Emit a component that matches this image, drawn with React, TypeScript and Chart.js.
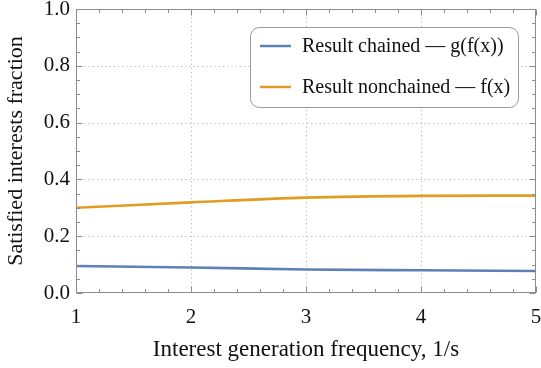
import React, { useEffect, useRef } from "react";
import { Chart, registerables } from "chart.js";

Chart.register(...registerables);

const frequencies = [1, 2, 3, 4, 5];
const chainedValues = [0.095, 0.09, 0.083, 0.08, 0.0775];
const nonchainedValues = [0.3, 0.319, 0.336, 0.342, 0.343];
const seriesLabels = ["Result chained \u2014 g(f(x))", "Result nonchained \u2014 f(x)"];
const seriesColors = ["#5E81B5", "#E19C24"];
const xTitle = "Interest generation frequency, 1/s";
const yTitle = "Satisfied interests fraction";

const FONT = "'Liberation Serif', 'Times New Roman', serif";

const framePlugin = {
  id: "mmaFrame",
  beforeDatasetsDraw(chart: any) {
    const { ctx, chartArea: a, scales } = chart;
    const xs = scales.x, ys = scales.y;
    ctx.save();
    ctx.strokeStyle = "#b8b8b8";
    ctx.lineWidth = 1;
    ctx.setLineDash([1.2, 3]);
    for (let v = 2; v <= 4; v++) {
      const px = Math.round(xs.getPixelForValue(v)) + 0.5;
      ctx.beginPath();
      ctx.moveTo(px, a.top);
      ctx.lineTo(px, a.bottom);
      ctx.stroke();
    }
    for (let i = 1; i <= 4; i++) {
      const py = Math.round(ys.getPixelForValue(i * 0.2)) + 0.5;
      ctx.beginPath();
      ctx.moveTo(a.left, py);
      ctx.lineTo(a.right, py);
      ctx.stroke();
    }
    ctx.restore();
  },
  afterDatasetsDraw(chart: any) {
    const { ctx, chartArea: a, scales } = chart;
    const xs = scales.x, ys = scales.y;
    ctx.save();
    ctx.strokeStyle = "#8c8c8c";
    ctx.lineWidth = 1;
    ctx.setLineDash([]);
    const L = Math.round(a.left) + 0.5, R = Math.round(a.right) - 0.5;
    const T = Math.round(a.top) + 0.5, B = Math.round(a.bottom) - 0.5;
    ctx.strokeRect(L, T, R - L, B - T);
    for (let k = 0; k <= 20; k++) {
      const v = 1 + k * 0.2;
      const major = k % 5 === 0;
      const len = major ? 6 : 3.5;
      const px = Math.round(xs.getPixelForValue(v)) + 0.5;
      ctx.beginPath();
      ctx.moveTo(px, B);
      ctx.lineTo(px, B - len);
      ctx.moveTo(px, T);
      ctx.lineTo(px, T + len);
      ctx.stroke();
    }
    for (let k = 0; k <= 20; k++) {
      const v = k * 0.05;
      const major = k % 4 === 0;
      const len = major ? 6 : 3.5;
      const py = Math.round(ys.getPixelForValue(v)) + 0.5;
      ctx.beginPath();
      ctx.moveTo(L, py);
      ctx.lineTo(L + len, py);
      ctx.moveTo(R, py);
      ctx.lineTo(R - len, py);
      ctx.stroke();
    }
    ctx.restore();
  },
  afterDraw(chart: any) {
    const { ctx } = chart;
    const bx = 250.5, by = 27.5, bw = 268, bh = 80, r = 9;
    ctx.save();
    ctx.fillStyle = "rgba(255,255,255,0.95)";
    ctx.strokeStyle = "#9a9a9a";
    ctx.lineWidth = 1;
    ctx.beginPath();
    ctx.moveTo(bx + r, by);
    ctx.lineTo(bx + bw - r, by);
    ctx.arcTo(bx + bw, by, bx + bw, by + r, r);
    ctx.lineTo(bx + bw, by + bh - r);
    ctx.arcTo(bx + bw, by + bh, bx + bw - r, by + bh, r);
    ctx.lineTo(bx + r, by + bh);
    ctx.arcTo(bx, by + bh, bx, by + bh - r, r);
    ctx.lineTo(bx, by + r);
    ctx.arcTo(bx, by, bx + r, by, r);
    ctx.closePath();
    ctx.fill();
    ctx.stroke();
    const rows = [46, 87];
    chart.data.datasets.forEach((ds: any, i: number) => {
      const y = rows[i];
      ctx.strokeStyle = ds.borderColor;
      ctx.lineWidth = 2.5;
      ctx.beginPath();
      ctx.moveTo(260, y);
      ctx.lineTo(291, y);
      ctx.stroke();
      ctx.fillStyle = "#111";
      ctx.font = `20px ${FONT}`;
      ctx.textBaseline = "middle";
      ctx.textAlign = "left";
      ctx.fillText(ds.label, 302, y + 1);
    });
    ctx.restore();
  },
};

export default function App() {
  const ref = useRef<HTMLCanvasElement | null>(null);
  useEffect(() => {
    if (!ref.current) return;
    const chart = new Chart(ref.current, {
      type: "line",
      data: {
        datasets: [
          {
            label: seriesLabels[0],
            data: frequencies.map((x, i) => ({ x, y: chainedValues[i] })),
            borderColor: seriesColors[0],
            borderWidth: 2.6,
            pointRadius: 0,
            cubicInterpolationMode: "monotone",
            fill: false,
          },
          {
            label: seriesLabels[1],
            data: frequencies.map((x, i) => ({ x, y: nonchainedValues[i] })),
            borderColor: seriesColors[1],
            borderWidth: 2.6,
            pointRadius: 0,
            cubicInterpolationMode: "monotone",
            fill: false,
          },
        ],
      },
      options: {
        animation: false,
        responsive: true,
        maintainAspectRatio: false,
        layout: { padding: { top: 9, right: 5, left: 0, bottom: 0 } },
        plugins: { legend: { display: false }, tooltip: { enabled: false } },
        scales: {
          x: {
            type: "linear",
            min: 1,
            max: 5,
            grid: { display: false, drawTicks: false },
            border: { display: false },
            ticks: {
              stepSize: 1,
              padding: 12,
              color: "#111",
              font: { family: FONT, size: 21 },
              maxRotation: 0,
              callback: (v: any) => String(v),
            },
            title: {
              display: true,
              text: xTitle,
              color: "#111",
              font: { family: FONT, size: 23 },
              padding: { top: 0, bottom: 4 },
            },
            afterFit: (s: any) => {
              s.height = 75;
              s.paddingLeft = 0;
              s.paddingRight = 0;
            },
          },
          y: {
            type: "linear",
            min: 0,
            max: 1,
            grid: { display: false, drawTicks: false },
            border: { display: false },
            ticks: {
              stepSize: 0.2,
              padding: 6,
              color: "#111",
              font: { family: FONT, size: 21 },
              callback: (v: any) => Number(v).toFixed(1),
            },
            title: {
              display: true,
              text: yTitle,
              color: "#111",
              font: { family: FONT, size: 22 },
              padding: { top: 3, bottom: 0 },
            },
            afterFit: (s: any) => {
              s.width = 76;
              s.paddingTop = 0;
              s.paddingBottom = 0;
            },
          },
        },
      },
      plugins: [framePlugin],
    });
    return () => chart.destroy();
  }, []);
  return (
    <div style={{ position: "absolute", left: 0, top: 0, width: 541, height: 368, background: "#fff" }}>
      <canvas ref={ref} />
    </div>
  );
}
